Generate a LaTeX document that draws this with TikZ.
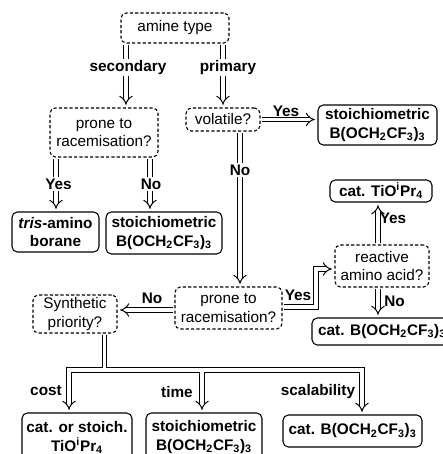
\documentclass[tikz,border=0pt]{standalone}
\usepackage{fontspec}
\setmainfont{Liberation Sans}
\usetikzlibrary{arrows.meta}
\begin{document}
\begin{tikzpicture}[x=0.75pt,y=-0.75pt,
  font=\fontsize{11.5}{14}\selectfont,
  qbox/.style={draw, dash pattern=on 2.4pt off 1.6pt, rounded corners=4pt, line width=0.8pt, align=center, inner sep=0pt},
  rbox/.style={draw, rounded corners=4pt, line width=0.8pt, align=center, inner sep=0pt, font=\fontsize{11.5}{14}\selectfont\bfseries},
  dbl/.style={double, double distance=2.8pt, line width=0.75pt, -{Implies}, shorten >=2pt, shorten <=1pt},
  lab/.style={font=\fontsize{11.5}{14}\selectfont\bfseries, inner sep=1pt},
  blab/.style={lab, fill=white},
]
\useasboundingbox (0,0) rectangle (443,454);

% decision boxes
\node[qbox, minimum width=81pt, minimum height=22.5pt] (amine) at (175,28) {amine type};
\node[qbox, minimum width=81pt, minimum height=36.75pt] (prone1) at (104,132.5) {prone to\\racemisation?};
\node[qbox, minimum width=55.5pt, minimum height=17.25pt] (volatile) at (223,119.5) {volatile?};
\node[qbox, minimum width=70.5pt, minimum height=31.5pt] (reactive) at (382,266) {reactive\\amino acid?};
\node[qbox, minimum width=80.25pt, minimum height=31.5pt] (prone2) at (228.5,308) {prone to\\racemisation?};
\node[qbox, minimum width=63pt, minimum height=28.5pt] (synth) at (75,314) {Synthetic\\priority?};

% result boxes
\node[rbox, minimum width=89.25pt, minimum height=30pt] (stoichR) at (377.5,125) {stoichiometric\\B(OCH\textsubscript{2}CF\textsubscript{3})\textsubscript{3}};
\node[rbox, minimum width=65.25pt, minimum height=30pt] (tris) at (55.5,232) {\textit{tris}-amino\\borane};
\node[rbox, minimum width=87pt, minimum height=31.5pt] (stoichL) at (164,233) {stoichiometric\\B(OCH\textsubscript{2}CF\textsubscript{3})\textsubscript{3}};
\node[rbox, minimum width=76.5pt, minimum height=16.5pt] (catTi) at (381,191) {cat. TiO\textsuperscript{i}Pr\textsubscript{4}};
\node[rbox, minimum width=105pt, minimum height=20.25pt] (catBR) at (382,331.5) {cat. B(OCH\textsubscript{2}CF\textsubscript{3})\textsubscript{3}};
\node[rbox, minimum width=82.5pt, minimum height=36.75pt] (catstoich) at (77,437.5) {cat. or stoich.\\TiO\textsuperscript{i}Pr\textsubscript{4}};
\node[rbox, minimum width=87pt, minimum height=36pt] (stoichB) at (204,437) {stoichiometric\\B(OCH\textsubscript{2}CF\textsubscript{3})\textsubscript{3}};
\node[rbox, minimum width=104.25pt, minimum height=24pt] (catBB) at (352.5,431) {cat. B(OCH\textsubscript{2}CF\textsubscript{3})\textsubscript{3}};

% helper coordinates
\coordinate (xsec) at (126,0);
\coordinate (xpri) at (223,0);
\coordinate (xyes) at (56,0);
\coordinate (xno) at (150,0);
\coordinate (xvno) at (240,0);
\coordinate (xre) at (378,0);
\coordinate (ynol) at (0,310);
\coordinate (b1) at (316,307);
\coordinate (b2) at (316,269);
\coordinate (j) at (104.5,370);
\coordinate (jc) at (69,370);
\coordinate (jt) at (202,370);
\coordinate (js) at (362,370);

% connectors
\draw[dbl] (amine.south -| xsec) -- (prone1.north -| xsec);
\draw[dbl] (amine.south -| xpri) -- (volatile.north -| xpri);
\draw[dbl] (prone1.south -| xyes) -- (tris.north -| xyes);
\draw[dbl] (prone1.south -| xno) -- (stoichL.north -| xno);
\draw[dbl] (volatile.east) -- (stoichR.west |- volatile.east);
\draw[dbl] (volatile.south -| xvno) -- (prone2.north -| xvno);
\draw[dbl] (prone2.west |- ynol) -- (synth.east |- ynol);
\draw[dbl] (prone2.east |- b1) -- (b1) -- (b2) -- (reactive.west |- b2);
\draw[dbl] (reactive.north -| xre) -- (catTi.south -| xre);
\draw[dbl] (reactive.south -| xre) -- (catBR.north -| xre);
\draw[dbl] (synth.south -| j) -- (j) -- (jc) -- (catstoich.north -| jc);
\draw[dbl] (synth.south -| j) -- (j) -- (jt) -- (stoichB.north -| jt);
\draw[dbl] (synth.south -| j) -- (j) -- (js) -- (catBB.north -| js);
\draw[white, line width=2.8pt] (jc) -- (js);
\draw[white, line width=2.8pt] (jt) -- ++(0,12);

% labels
\node[blab] (lsec) at (128,67.5) {secondary};
\node[blab] (lpri) at (228,67.5) {primary};
\node[blab] (lyes1) at (58.5,184) {Yes};
\node[blab] (lno1) at (151,184) {No};
\node[blab] (lno2) at (240,170) {No};
\node[lab] (lyes2) at (286,111) {Yes};
\node[lab] (lno3) at (152,298) {No};
\node[lab] (lyes3) at (298,295) {Yes};
\node[lab] (lyes4) at (393,218) {Yes};
\node[lab] (lno4) at (394.5,301) {No};
\node[lab] (lcost) at (46,391) {cost};
\node[lab] (ltime) at (177,392) {time};
\node[lab] (lscal) at (318,392) {scalability};
\end{tikzpicture}
\end{document}
